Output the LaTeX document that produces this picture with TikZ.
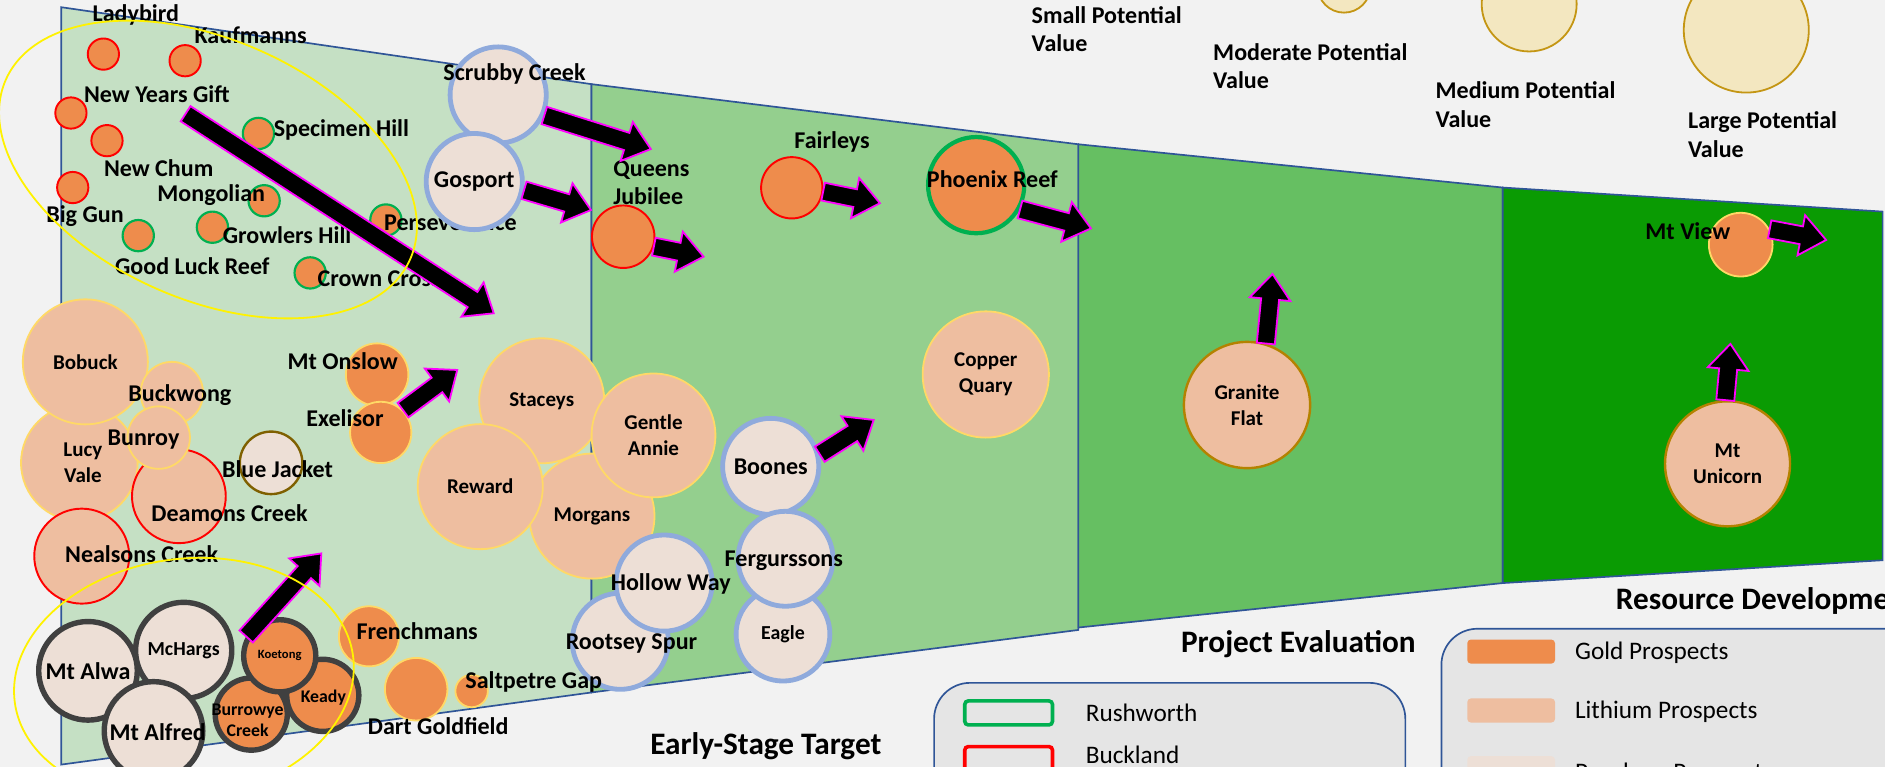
\documentclass[tikz,border=0pt]{standalone}
\usepackage{fontspec}
\setmainfont{Carlito}
\usetikzlibrary{calc}

\definecolor{bgcol}{RGB}{242,242,242}
\definecolor{stageA}{RGB}{197,224,196}
\definecolor{stageB}{RGB}{148,207,142}
\definecolor{stageC}{RGB}{102,191,98}
\definecolor{stageD}{RGB}{10,155,3}
\definecolor{stageline}{RGB}{47,85,151}
\definecolor{goldfill}{RGB}{238,140,76}
\definecolor{lithfill}{RGB}{238,190,160}
\definecolor{porfill}{RGB}{237,223,214}
\definecolor{poredge}{RGB}{143,170,220}
\definecolor{yedge}{RGB}{255,217,102}
\definecolor{rushgreen}{RGB}{0,176,80}
\definecolor{darkedge}{RGB}{64,64,64}
\definecolor{brownedge}{RGB}{127,96,0}
\definecolor{ochreedge}{RGB}{180,130,0}
\definecolor{keyfill}{RGB}{243,231,192}
\definecolor{keyedge}{RGB}{196,150,20}
\definecolor{legfill}{RGB}{229,229,229}
\definecolor{arrowedge}{RGB}{255,0,255}

\tikzset{
  lbl/.style={font=\bfseries\fontsize{20}{23.5}\selectfont, inner sep=0pt, align=center},
  title/.style={font=\bfseries\fontsize{26}{30}\selectfont, inner sep=0pt},
  legtext/.style={font=\fontsize{21}{25}\selectfont, inner sep=0pt, anchor=west},
  stage/.style={draw=stageline, line width=1.4pt, line join=miter},
  bub/.style={circle, inner sep=0pt, minimum size=#1},
  gold/.style={bub=#1, fill=goldfill},
  lith/.style={bub=#1, fill=lithfill, font=\bfseries\fontsize{17.5}{21.5}\selectfont, align=center},
  porph/.style={bub=#1, fill=porfill, font=\bfseries\fontsize{20}{23.5}\selectfont, align=center},
  buck/.style={draw=red, line width=1.6pt},
  rush/.style={draw=rushgreen, line width=1.8pt},
  yel/.style={draw=yedge, line width=1.5pt},
  blu/.style={draw=poredge, line width=4pt},
  dark/.style={draw=darkedge, line width=4.5pt},
  fatarr/.style={fill=black, draw=arrowedge, line width=1.5pt, line join=miter},
  ring/.style={draw=yellow, line width=1.5pt},
  keycirc/.style={circle, fill=keyfill, draw=keyedge, line width=1.5pt, minimum size=#1, inner sep=0pt},
  keytext/.style={font=\bfseries\fontsize{20}{23.5}\selectfont, align=left, anchor=west, inner sep=0pt},
  swatch/.style={minimum width=73pt, minimum height=20pt, inner sep=0pt, rounded corners=3pt},
  legbox/.style={fill=legfill, draw=stageline, line width=1.4pt, rounded corners=30pt}
}

% block arrow from a node border to a tip coordinate
\newcommand{\fatarrow}[2]{%
  \path let \p1=(#1), \p2=(#2),
    \n1={atan2(\y2-\y1,\x2-\x1)}, \n2={veclen(\x2-\x1,\y2-\y1)} in
    \pgfextra{\xdef\arrang{\n1}\xdef\arrlen{\n2}};
  \draw[fatarr, shift={(#1)}, rotate=\arrang]
    (0pt,7.5pt) -- ({\arrlen*1pt-21pt},7.5pt) -- ({\arrlen*1pt-21pt},17pt)
    -- ({\arrlen*1pt},0pt) -- ({\arrlen*1pt-21pt},-17pt)
    -- ({\arrlen*1pt-21pt},-7.5pt) -- (0pt,-7.5pt) -- cycle;
}

\begin{document}
\begin{tikzpicture}[x=1pt,y=-1pt]
\useasboundingbox (0,0) rectangle (1568,638);
\clip (0,0) rectangle (1568,638);
\fill[bgcol] (0,0) rectangle (1568,638);

%STAGES
\filldraw[stage,fill=stageA] (51,6) -- (492,70) -- (492,576) -- (51,636) -- cycle;
\filldraw[stage,fill=stageB] (492,70) -- (897,120) -- (897,524) -- (492,576) -- cycle;
\filldraw[stage,fill=stageC] (897,120) -- (1250,156) -- (1250,485) -- (897,522) -- cycle;
\filldraw[stage,fill=stageD] (1250,156) -- (1566,176) -- (1566,466) -- (1250,485) -- cycle;

\node[title] (early) at (637,621) {Early-Stage Target};
\node[title] (evaluation) at (1080,536) {Project Evaluation};
\node[title,anchor=west] (development) at (1344,500) {Resource Development};

%LEGEND -- DISTRICTS
\filldraw[legbox] (777,568) rectangle (1169,720);
\node[swatch,rush,line width=3pt] (rushkey) at (839,593) {};
\node[legtext] (rushtext) at (903,593) {Rushworth};
\node[swatch,buck,line width=3pt] (buckkey) at (839,631) {};
\node[legtext] (bucktext) at (903,627.5) {Buckland};

%LEGEND -- COMMODITIES
\filldraw[legbox] (1199,523) rectangle (1640,720);
\node[swatch,fill=goldfill] (goldkey) at (1257,542) {};
\node[legtext] (goldtext) at (1310,543) {Gold Prospects};
\node[swatch,fill=lithfill] (lithkey) at (1257,591) {};
\node[legtext] (lithtext) at (1310,592) {Lithium Prospects};
\node[swatch,fill=porfill] (porkey) at (1257,639) {};
\node[legtext] (portext) at (1310,644) {Porphyry Prospects};

%LEGEND -- POTENTIAL VALUE
\node[keycirc=44pt] (smallkey) at (1118,-11.5) {};
\node[keycirc=79pt] (mediumkey) at (1272,3.3) {};
\node[keycirc=104pt] (largekey) at (1452.6,25) {};
\node[keytext] (smalltext) at (858,24) {Small Potential\\Value};
\node[keytext] (moderatetext) at (1009,55) {Moderate Potential\\Value};
\node[keytext] (mediumtext) at (1194,87) {Medium Potential\\Value};
\node[keytext] (largetext) at (1404,112) {Large Potential\\Value};

%GOLD -- BUCKLAND (TOP LEFT)
\node[gold=26pt,buck] (ladybird) at (86,45) {};
\node[gold=26pt,buck] (kaufmanns) at (154,50.5) {};
\node[gold=26pt,buck] (gift) at (59,94) {};
\node[gold=26pt,buck] (chum) at (89,117) {};
\node[gold=26pt,buck] (biggun) at (60.5,156) {};
\node[lbl] (ladybirdlbl) at (113,12.5) {Ladybird};
\node[lbl] (kaufmannslbl) at (208.5,29) {Kaufmanns};
\node[lbl] (giftlbl) at (130.5,78) {New Years Gift};
\node[lbl] (chumlbl) at (132,140) {New Chum};
\node[lbl] (biggunlbl) at (70.7,179.7) {Big Gun};

%GOLD -- RUSHWORTH (TOP LEFT)
\node[gold=26pt,rush] (specimen) at (215,111) {};
\node[gold=26pt,rush] (mongolian) at (219.7,167) {};
\node[gold=26pt,rush] (growlers) at (176.7,189) {};
\node[gold=26pt,rush] (goodluck) at (115,196) {};
\node[gold=26pt,rush] (crown) at (258,227) {};
\node[gold=26pt,rush] (persev) at (321,183) {};
\node[lbl] (specimenlbl) at (284,108) {Specimen Hill};
\node[lbl] (mongolianlbl) at (175.7,162) {Mongolian};
\node[lbl] (growlerslbl) at (238.8,195.5) {Growlers Hill};
\node[lbl] (goodlucklbl) at (160,221) {Good Luck Reef};
\node[lbl,anchor=west] (crownlbl) at (264,231.5) {Crown Cross};
\node[lbl] (persevlbl) at (374.7,185) {Perseverance};

\coordinate (diagtail) at (154.4,94.6);
\coordinate (diagtip) at (410.7,260.6);
\fatarrow{diagtail}{diagtip}

%PORPHYRY -- SCRUBBY CREEK & GOSPORT
\node[porph=80pt,blu] (scrubby) at (414.4,79) {};
\node[lbl] (scrubbylbl) at (428,61.6) {Scrubby Creek};
\node[porph=80pt,blu] (gosport) at (394.5,151) {Gosport};

%LITHIUM -- LEFT CLUSTER
\node[lith=97pt,yel] (lucyvale) at (66,385) {\hspace*{6pt}Lucy\\\hspace*{6pt}Vale};
\node[lith=104pt,yel] (bobuck) at (71,301) {Bobuck};
\node[lith=79pt,buck] (nealsons) at (68,462.6) {};
\node[lith=78pt,buck] (deamons) at (148.8,412.8) {};
\node[lith=52pt,yel] (buckwong) at (143,327) {};
\node[lith=52pt,yel] (bunroy) at (132,364) {};
\node[lbl] (buckwonglbl) at (149.6,328.5) {Buckwong};
\node[lbl] (bunroylbl) at (119.4,365.4) {Bunroy};
\node[lbl] (deamonslbl) at (191,427) {Deamons Creek};
\node[lbl] (nealsonslbl) at (117.8,460.8) {Nealsons Creek};
\node[porph=52pt,draw=brownedge,line width=2pt] (bluejacket) at (225.5,385) {};
\node[lbl] (bluejacketlbl) at (230.8,390) {Blue Jacket};

%GOLD -- MT ONSLOW & EXELISOR
\node[gold=52pt,yel] (onslow) at (313.7,311.6) {};
\node[gold=51pt,yel] (exelisor) at (316.7,359.7) {};
\node[lbl] (onslowlbl) at (285,300.8) {Mt Onslow};
\node[lbl] (exelisorlbl) at (287,348) {Exelisor};

%LITHIUM -- MIDDLE CLUSTER
\node[lith=104pt,yel] (morgans) at (492.4,429.3) {Morgans};
\node[lith=104pt,yel] (staceys) at (450.6,333.4) {Staceys};
\node[lith=104pt,yel] (reward) at (399.5,404.8) {Reward};
\node[lith=103pt,yel] (gentle) at (543.6,362.2) {Gentle\\Annie};

%PORPHYRY -- MIDDLE
\node[porph=80pt,blu] (rootsey) at (516,533.4) {};
\node[porph=80pt,blu] (hollow) at (552.4,485) {};
\node[lbl] (rootseylbl) at (525.3,535.1) {Rootsey Spur};
\node[lbl] (hollowlbl) at (558,485.7) {Hollow Way};
\node[porph=80pt,blu] (boones) at (641.1,388) {Boones};
\node[porph=78pt,blu,font=\bfseries\fontsize{16.5}{20}\selectfont] (eagle) at (651.3,527.5) {Eagle};
\node[porph=79pt,blu] (ferg) at (653.4,464.8) {};
\node[lbl] (fergl) at (652,466.6) {Fergurssons};

%BOTTOM LEFT CLUSTER
\node[porph=80pt,dark,font=\bfseries\fontsize{16.5}{20}\selectfont] (mchargs) at (152.8,541) {McHargs};
\node[porph=82pt,dark] (mtalwa) at (73.2,558) {Mt Alwa};
\node[porph=82pt,dark] (mtalfred) at (127.7,608) {};
\node[lbl] (mtalfredlbl) at (131.2,609.1) {Mt Alfred};
\node[gold=60pt,dark] (keady) at (268.5,578.4) {};
\node[gold=60pt,dark] (burrowye) at (209,594) {};
\node[gold=60pt,dark,font=\bfseries\fontsize{10.5}{12}\selectfont] (koetong) at (232.7,545.5) {Koetong};
\node[lbl,font=\bfseries\fontsize{14.8}{17.5}\selectfont] (keadylbl) at (269,580.3) {Keady};
\node[lbl,font=\bfseries\fontsize{14.8}{17.5}\selectfont] (burrowyelbl) at (206,599) {Burrowye\\Creek};

%GOLD -- BOTTOM
\node[gold=50pt,yel] (frenchmans) at (306.9,529.3) {};
\node[gold=52pt,yel] (dart) at (346.2,573.3) {};
\node[gold=27pt,yel] (saltpetre) at (392.3,574.8) {};
\node[lbl] (frenchmanslbl) at (347,525.4) {Frenchmans};
\node[lbl] (dartlbl) at (364.5,604.4) {Dart Goldfield};
\node[lbl] (saltpetrelbl) at (444,567) {Saltpetre Gap};

%GOLD -- LATER STAGES
\node[gold=52pt,buck] (queens) at (518.4,196.9) {};
\node[lbl,align=left,anchor=west] (queenslbl) at (510,152) {Queens\\Jubilee};
\node[gold=51pt,buck] (fairleys) at (658.6,156.2) {};
\node[lbl] (fairleyslbl) at (692.1,117.8) {Fairleys};
\node[gold=80pt,rush,line width=3.5pt] (phoenix) at (812,154) {};
\node[lbl] (phoenixlbl) at (825.5,148.9) {Phoenix Reef};
\node[gold=53pt,yel] (mtview) at (1448,203.5) {};
\node[lbl] (mtviewlbl) at (1404,192.1) {Mt View};

%LITHIUM -- LATER STAGES
\node[lith=105pt,yel] (copper) at (820,311.5) {Copper\\Quary};
\node[lith=105pt,draw=ochreedge,line width=2pt] (granite) at (1037.3,336.9) {Granite\\Flat};
\node[lith=104pt,draw=ochreedge,line width=2pt] (unicorn) at (1437,385.8) {Mt\\Unicorn};

%ARROWS
\coordinate (scrubbytip) at (541.4,124);
\coordinate (gosporttip) at (491.6,174.7);
\coordinate (exelisortip) at (380.4,307.7);
\coordinate (koetongtip) at (267.4,460.2);
\coordinate (queenstip) at (585.2,213.5);
\coordinate (fairleystip) at (731.9,169);
\coordinate (phoenixtip) at (907.5,190);
\coordinate (boonestip) at (726.8,349.3);
\coordinate (granitetip) at (1058.5,227.9);
\coordinate (unicorntip) at (1439.4,286.1);
\coordinate (mtviewtip) at (1519,199.6);
\fatarrow{scrubby.-24}{scrubbytip}
\fatarrow{gosport.-10}{gosporttip}
\fatarrow{exelisor.45}{exelisortip}
\fatarrow{koetong.150}{koetongtip}
\fatarrow{queens.-18}{queenstip}
\fatarrow{fairleys.-7}{fairleystip}
\fatarrow{phoenix.-29}{phoenixtip}
\fatarrow{boones.14}{boonestip}
\fatarrow{granite.73}{granitetip}
\fatarrow{unicorn.92}{unicorntip}
\fatarrow{mtview.28}{mtviewtip}

%GROUP RINGS
\draw[ring, rotate around={-24:(173,141)}] (173,141) ellipse [x radius=184pt, y radius=108pt];
\draw[ring, rotate around={8:(153,565)}] (153,565) ellipse [x radius=142pt, y radius=100pt];

\end{tikzpicture}
\end{document}
